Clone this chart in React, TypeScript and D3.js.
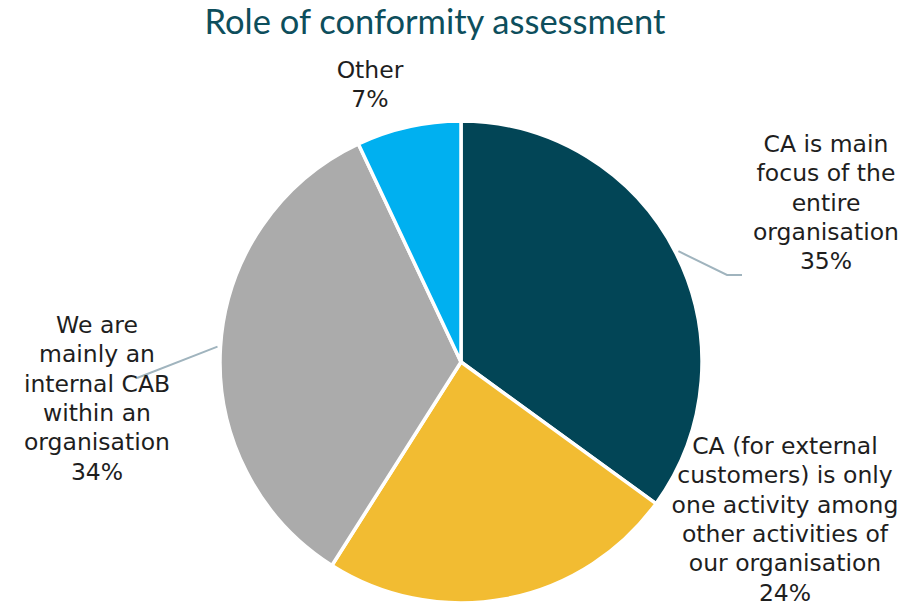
import React from "react";
import * as d3 from "d3";

const categories = [
  "CA is main focus of the entire organisation",
  "CA (for external customers) is only one activity among other activities of our organisation",
  "We are mainly an internal CAB within an organisation",
  "Other",
];
const values = [35, 24, 34, 7];
const colors = ["#024556", "#F2BC32", "#ABABAB", "#00B0F0"];
const labelLines = [
  ["CA is main", "focus of the", "entire", "organisation"],
  ["CA (for external", "customers) is only", "one activity among", "other activities of", "our organisation"],
  ["We are", "mainly an", "internal CAB", "within an", "organisation"],
  ["Other"],
];
const title = "Role of conformity assessment";

// layout (not data)
const W = 914, H = 605;
const cx = 461, cy = 362, R = 241;
const labelPos = [
  { x: 826, y: 152 },
  { x: 785, y: 454 },
  { x: 97, y: 333 },
  { x: 370, y: 78 },
];
const leaders: ({ end: [number, number][] } | null)[] = [
  { end: [[727, 275], [742, 275]] },
  null,
  { end: [[137, 378]] },
  null,
];
const lineH = 29.3;

export default function App() {
  const pie = d3.pie<number>().sort(null).value((d) => d).startAngle(0).endAngle(2 * Math.PI);
  const arcs = pie(values);
  const arc = d3.arc<d3.PieArcDatum<number>>().innerRadius(0).outerRadius(R);
  const total = d3.sum(values);

  return (
    <svg width={W} height={H} style={{ position: "absolute", left: 0, top: 0, background: "#fff" }}>
      <text
        x={435}
        y={34}
        textAnchor="middle"
        fontFamily="Lato, 'Open Sans', sans-serif"
        fontSize={34.5}
        fill="#0D4E5C"
      >
        {title}
      </text>
      <g transform={`translate(${cx},${cy})`}>
        {arcs.map((a, i) => (
          <path key={i} d={arc(a) || ""} fill={colors[i]} stroke="#fff" strokeWidth={3.5} strokeLinejoin="round" />
        ))}
      </g>
      {arcs.map((a, i) => {
        const ld = leaders[i];
        if (!ld) return null;
        const mid = (a.startAngle + a.endAngle) / 2;
        const r0 = R + 3;
        const sx = cx + r0 * Math.sin(mid);
        const sy = cy - r0 * Math.cos(mid);
        const pts: [number, number][] = [[sx, sy], ...ld.end];
        return (
          <path
            key={"l" + i}
            d={d3.line()(pts) || ""}
            fill="none"
            stroke="#A0B4BE"
            strokeWidth={2}
          />
        );
      })}
      {labelLines.map((lines, i) => {
        const pct = `${Math.round((values[i] / total) * 100)}%`;
        const all = [...lines, pct];
        return (
          <text
            key={"t" + i}
            textAnchor="middle"
            fontFamily="'DejaVu Sans', Verdana, sans-serif"
            fontSize={23.5}
            fill="#1E1E1E"
          >
            {all.map((s, j) => (
              <tspan key={j} x={labelPos[i].x} y={labelPos[i].y + j * lineH}>
                {s}
              </tspan>
            ))}
          </text>
        );
      })}
    </svg>
  );
}
